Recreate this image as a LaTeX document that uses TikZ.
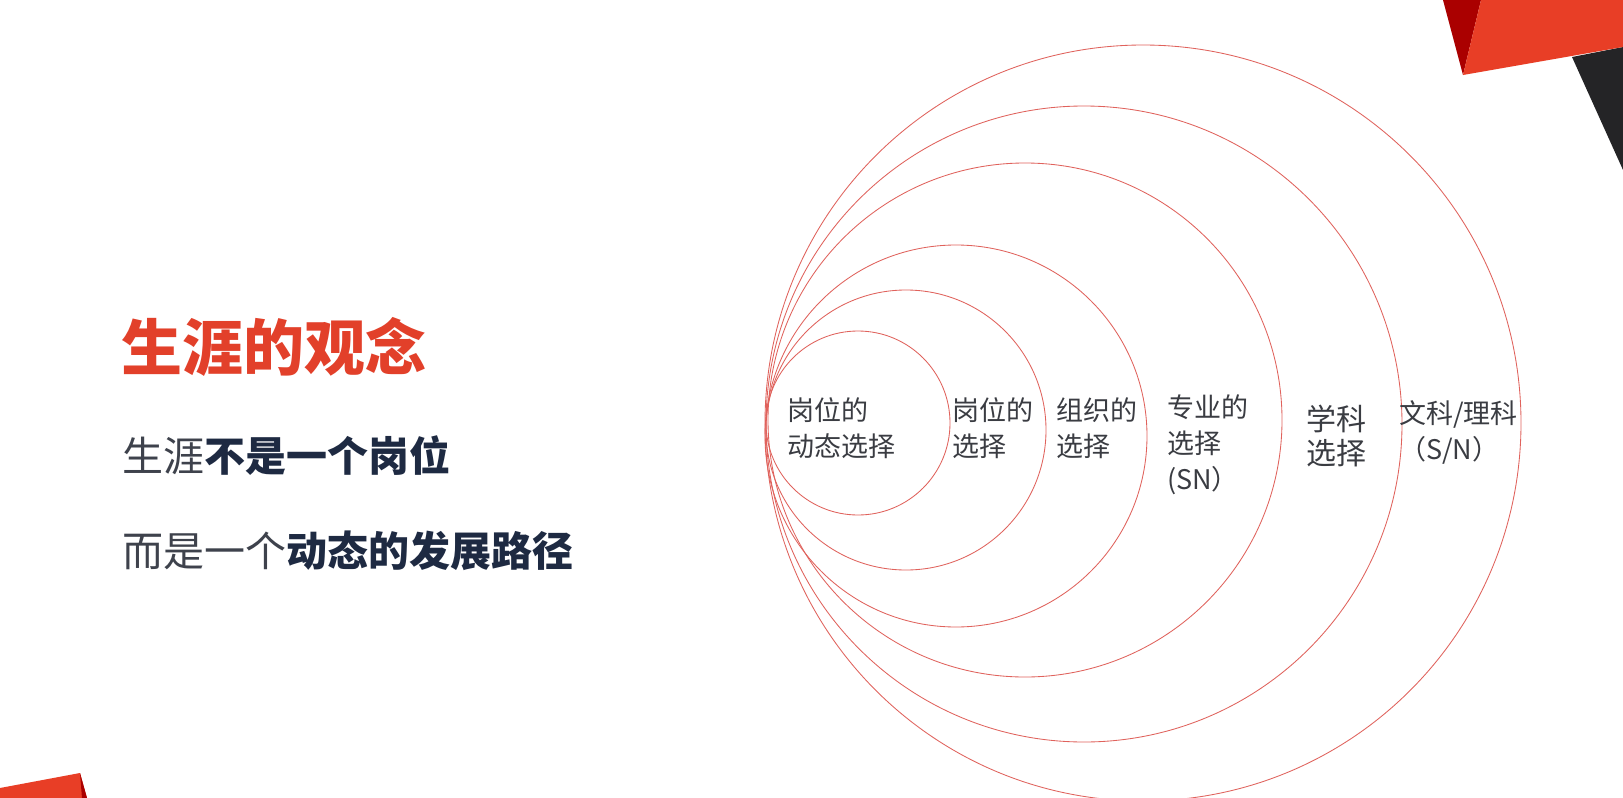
\documentclass[tikz,border=0pt]{standalone}
\usepackage{fontspec}
\newfontfamily\cjk{Noto Sans CJK SC}
\definecolor{titlered}{RGB}{226,64,42}
\definecolor{bodygray}{RGB}{62,66,76}
\definecolor{bodynavy}{RGB}{30,42,66}
\definecolor{labelgray}{RGB}{58,60,66}
\definecolor{ringred}{RGB}{224,98,92}
\definecolor{cornerred}{RGB}{232,62,38}
\definecolor{cornerdark}{RGB}{170,0,0}
\definecolor{cornerblack}{RGB}{36,36,38}
\tikzset{
  ring/.style={draw=ringred, line width=0.85pt},
  lbl/.style={anchor=west, align=left, inner sep=0pt, text=labelgray, font=\cjk\fontsize{27}{36}\selectfont},
  lblbig/.style={anchor=west, align=left, inner sep=0pt, text=labelgray, font=\cjk\fontsize{30}{34}\selectfont},
  bodytext/.style={anchor=west, inner sep=0pt, text=bodygray, font=\cjk\fontsize{41}{48}\selectfont},
}
\begin{document}
\begin{tikzpicture}[x=1pt,y=-1pt]
\useasboundingbox (0,0) rectangle (1623,798);
\fill[white] (0,0) rectangle (1623,798);
% corner decorations
\fill[cornerblack] (1572,57) -- (1623,47) -- (1623,170) -- cycle;
\fill[cornerdark] (1443,0) -- (1481,0) -- (1463,75) -- cycle;
\fill[cornerred] (1481,0) -- (1463,75) -- (1623,47) -- (1623,0) -- cycle;
\fill[cornerred] (0,788) -- (80,773) -- (87,798) -- (0,798) -- cycle;
\fill[cornerdark] (80,773) -- (87,798) -- (82,798) -- cycle;
% rings
\draw[ring] (858,423) circle[radius=92];
\draw[ring] (906,430) circle[radius=140];
\draw[ring] (956,436) circle[radius=191];
\draw[ring] (1025,420) circle[radius=257];
\draw[ring] (1084,424) circle[radius=318];
\draw[ring] (1143,423) circle[radius=378];
% left text
\node[anchor=west, inner sep=0pt, text=titlered, font=\cjk\bfseries\fontsize{61}{70}\selectfont] (title) at (121,347) {生涯的观念};
\node[bodytext] (line1) at (122,456) {生涯\textbf{\color{bodynavy}不是一个岗位}};
\node[bodytext] (line2) at (122,551) {而是一个\textbf{\color{bodynavy}动态的发展路径}};
% ring labels
\node[lbl] (l1) at (787,428) {岗位的\\动态选择};
\node[lbl] (l2) at (952,428) {岗位的\\选择};
\node[lbl] (l3) at (1056,428) {组织的\\选择};
\node[lbl] (l4) at (1167,445) {专业的\\选择\\(SN）};
\node[lblbig] (l5) at (1306,436) {学科\\选择};
\node[lbl] (l6) at (1399,432) {文科/理科\\（S/N）};
\end{tikzpicture}
\end{document}
